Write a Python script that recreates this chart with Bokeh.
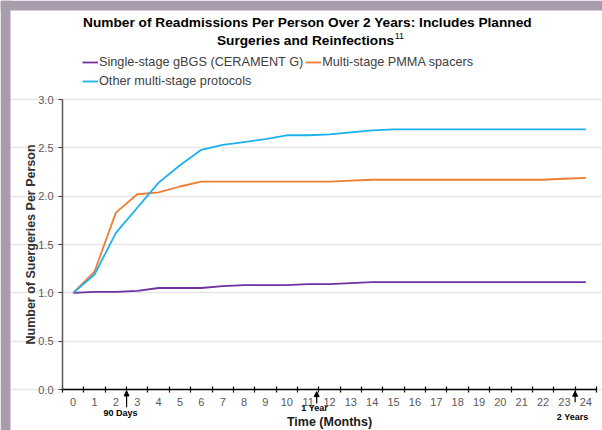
from bokeh.plotting import figure
from bokeh.models import (FixedTicker, NumeralTickFormatter, Label, Arrow, NormalHead,
                          Legend, LegendItem, BoxAnnotation)
from bokeh.embed import file_html
from bokeh.resources import INLINE

# ---------------- data ----------------
months = list(range(25))
single_stage_gbgs = [1.00, 1.01, 1.01, 1.02, 1.05, 1.05, 1.05, 1.07, 1.08, 1.08, 1.08, 1.09, 1.09,
                     1.10, 1.11, 1.11, 1.11, 1.11, 1.11, 1.11, 1.11, 1.11, 1.11, 1.11, 1.11]
multi_stage_pmma = [1.00, 1.22, 1.83, 2.02, 2.04, 2.10, 2.15, 2.15, 2.15, 2.15, 2.15, 2.15, 2.15,
                    2.16, 2.17, 2.17, 2.17, 2.17, 2.17, 2.17, 2.17, 2.17, 2.17, 2.18, 2.19]
other_multi_stage = [1.00, 1.19, 1.62, 1.88, 2.14, 2.32, 2.48, 2.53, 2.56, 2.59, 2.63, 2.63, 2.64,
                     2.66, 2.68, 2.69, 2.69, 2.69, 2.69, 2.69, 2.69, 2.69, 2.69, 2.69, 2.69]
series_names = ["Single-stage gBGS (CERAMENT G)", "Multi-stage PMMA spacers",
                "Other multi-stage protocols"]
y_ticks = [0.0, 0.5, 1.0, 1.5, 2.0, 2.5, 3.0]
milestone_labels = ["90 Days", "1 Year", "2 Years"]
milestone_months = [2.5, 11.4, 23.5]

title_line1 = "Number of Readmissions Per Person Over 2 Years: Includes Planned"
title_line2 = "Surgeries and Reinfections"
title_sup = "11"

# ---------------- layout / styles ----------------
FONT = "Liberation Sans"
COLORS = ["#7030A0", "#ED7D31", "#1CB1EC"]
PAGE_BG = "#A89CAD"

W, H = 602, 430
AX_L, AX_R, AX_T, AX_B = 62, 596, 99, 389   # plot area in pixels
XPX = (AX_R - AX_L) / 25.0
YPX = (AX_B - AX_T) / 3.0
x0 = -0.5 - AX_L / XPX
x1 = 24.5 + (W - AX_R) / XPX
y0 = -(H - AX_B) / YPX
y1 = AX_B / YPX


def dx(px):   # pixel column -> data x
    return x0 + px / XPX


def dy(py):   # pixel row -> data y
    return y1 - py / YPX


p = figure(width=W, height=H, x_range=(x0, x1), y_range=(y0, y1),
           output_backend="svg", toolbar_location=None,
           min_border=0, min_border_left=0, min_border_right=0, min_border_top=0,
           min_border_bottom=0, outline_line_color=None,
           background_fill_color="white", border_fill_color="white")

# slide background strips (left and top)
p.add_layout(BoxAnnotation(right=dx(10), fill_color=PAGE_BG, fill_alpha=1,
                           line_color=None, level="underlay"))
p.add_layout(BoxAnnotation(bottom=dy(10), fill_color=PAGE_BG, fill_alpha=1,
                           line_color=None, level="underlay"))

# x axis: labels at month centres, tick marks between categories
xt = FixedTicker(ticks=months, minor_ticks=[m - 0.5 for m in range(26)])
xa = p.xaxis[0]
xa.fixed_location = 0
xa.bounds = (-0.5, 24.5)
xa.ticker = xt
xa.major_tick_line_color = None
xa.major_tick_in = 0
xa.major_tick_out = 3
xa.minor_tick_line_color = "black"
xa.minor_tick_in = 3
xa.minor_tick_out = 3
xa.minor_tick_line_width = 1.2
xa.axis_line_color = "black"
xa.axis_line_width = 1.3
xa.major_label_standoff = 5
xa.major_label_text_font = FONT
xa.major_label_text_font_size = "11px"
xa.major_label_text_color = "#595959"
xa.axis_label = "Time (Months)"
xa.axis_label_text_font = FONT
xa.axis_label_text_font_style = "bold"
xa.axis_label_text_font_size = "12.5px"
xa.axis_label_text_color = "#1a1a1a"
xa.axis_label_standoff = 6

yt = FixedTicker(ticks=y_ticks, minor_ticks=[])
ya = p.yaxis[0]
ya.fixed_location = -0.5
ya.bounds = (0, 3)
ya.ticker = yt
ya.formatter = NumeralTickFormatter(format="0.0")
ya.major_tick_in = 0
ya.major_tick_out = 4
ya.major_tick_line_color = "#404040"
ya.minor_tick_line_color = None
ya.axis_line_color = "#595959"
ya.axis_line_width = 1.5
ya.major_label_standoff = 5
ya.major_label_text_font = FONT
ya.major_label_text_font_size = "11px"
ya.major_label_text_color = "#595959"
ya.axis_label = "Number of Suergeries Per Person"
ya.axis_label_text_font = FONT
ya.axis_label_text_font_style = "bold"
ya.axis_label_text_font_size = "12.5px"
ya.axis_label_text_color = "#333333"
ya.axis_label_standoff = -3

p.xgrid.visible = False
p.ygrid.ticker = yt
p.ygrid.bounds = (-0.5, 24.5)
p.ygrid.grid_line_color = "#E6E6E6"
p.ygrid.grid_line_width = 1.3

renderers = []
for vals, col in zip([single_stage_gbgs, multi_stage_pmma, other_multi_stage], COLORS):
    renderers.append(p.line(months, vals, line_color=col, line_width=1.8))


# legends (two rows), positioned relative to the frame's lower-left corner
def make_legend(items, loc):
    lg = Legend(items=items, location=loc, orientation="horizontal",
                label_text_font=FONT, label_text_font_size="12.7px", label_text_color="#404040",
                glyph_width=16, glyph_height=16, label_height=16, label_standoff=1,
                spacing=2, padding=0, margin=0, border_line_color=None,
                background_fill_alpha=0)
    p.add_layout(lg, "center")


make_legend([LegendItem(label=series_names[0], renderers=[renderers[0]]),
             LegendItem(label=series_names[1], renderers=[renderers[1]])], (82, H - 70))
make_legend([LegendItem(label=series_names[2], renderers=[renderers[2]])], (82, H - 89))

# title (with superscript)
TITLE_PX = 13.7
line2_width_em = 12.95          # width of line 2 in em (Liberation Sans Bold)
c2 = 305
p.add_layout(Label(x=dx(307), y=dy(22), text=title_line1, text_align="center",
                   text_baseline="middle", text_font=FONT, text_font_style="bold",
                   text_font_size=f"{TITLE_PX}px", text_color="black"))
p.add_layout(Label(x=dx(c2), y=dy(40), text=title_line2, text_align="center",
                   text_baseline="middle", text_font=FONT, text_font_style="bold",
                   text_font_size=f"{TITLE_PX}px", text_color="black"))
p.add_layout(Label(x=dx(c2 + line2_width_em * TITLE_PX / 2 + 0.5), y=dy(35), text=title_sup,
                   text_align="left", text_baseline="middle", text_font=FONT,
                   text_font_size="9px", text_color="black"))

# milestone arrows under the axis
arrow_spans = [(-0.183, -0.015), (-0.145, -0.022), (-0.131, -0.018)]
text_pos = [(2.22, -0.241), (11.3, -0.193), (23.38, -0.287)]
for lab, mx, (ys, ye), (tx, ty) in zip(milestone_labels, milestone_months, arrow_spans, text_pos):
    p.add_layout(Arrow(end=NormalHead(size=5, fill_color="black", line_color="black"),
                       x_start=mx, y_start=ys, x_end=mx, y_end=ye,
                       line_color="black", line_width=1.2))
    p.add_layout(Label(x=tx, y=ty, text=lab, text_align="center", text_baseline="middle",
                       text_font=FONT, text_font_style="bold", text_font_size="9px",
                       text_color="black"))

open("out.html", "w").write(file_html(p, INLINE))
